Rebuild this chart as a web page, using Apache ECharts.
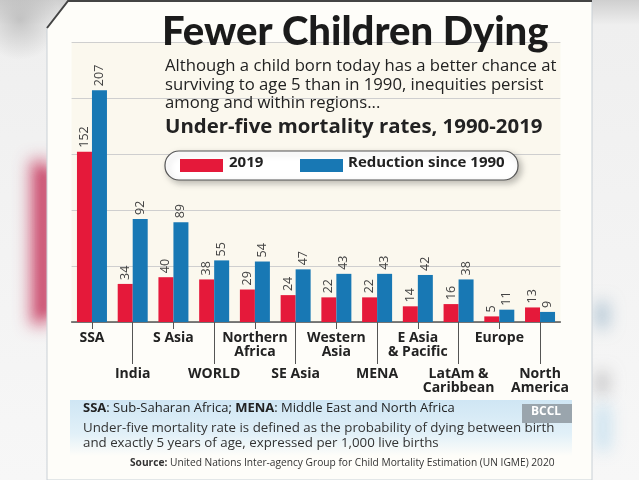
<!DOCTYPE html>
<html><head><meta charset="utf-8">
<script src="https://cdn.jsdelivr.net/npm/echarts@6/dist/echarts.min.js"></script>
<style>
html,body{margin:0;padding:0;}
body{width:639px;height:480px;overflow:hidden;
background:
 radial-gradient(ellipse 40px 40px at 20px 20px, rgba(170,170,170,0.6), rgba(170,170,170,0) 100%),
 linear-gradient(to bottom, #cfcfcf 0px, #efefef 25px, #f7f7f7 100%);
}
#c{width:639px;height:480px;}
</style></head>
<body><div id="c"></div>
<script>
const categories = ['SSA','India','S Asia','WORLD','Northern\nAfrica','SE Asia','Western\nAsia','MENA','E Asia\n& Pacific','LatAm &\nCaribbean','Europe','North\nAmerica'];
const values2019 = [152,34,40,38,29,24,22,22,14,16,5,13];
const reductionSince1990 = [207,92,89,55,54,47,43,43,42,38,11,9];
const yTicks = [0,50,100,150,200,250];

const RED = '#e5193a', BLUE = '#1878b4';
const chart = echarts.init(document.getElementById('c'), null, {renderer:'canvas'});
const labelFont = {fontFamily:'Open Sans', fontWeight:700, fontSize:14, color:'#222', lineHeight:14};
const valLabel = {show:true, position:'top', rotate:90, align:'left', verticalAlign:'middle', distance:4,
  fontFamily:'Open Sans', fontSize:12.5, color:'#444'};

// soft blurred decoration: only the shadow of an off-screen rect is visible
function blob(x, y, w, h, color, blur){
  return {type:'rect', z:-20, shape:{x:x-2000, y:y, width:w, height:h},
    style:{fill:color, shadowBlur:blur, shadowColor:color, shadowOffsetX:2000, shadowOffsetY:0}};
}

chart.setOption({
  animation:false,
  backgroundColor:'transparent',
  grid:{left:71.6, right:78.6, top:42, bottom:158, show:true, backgroundColor:'#fbf8ee', borderWidth:0},
  xAxis:[
    {type:'category', data:categories, position:'bottom',
     axisLine:{show:true, lineStyle:{color:'#555', width:1.5}},
     axisTick:{show:true, alignWithLabel:true, length:7, lineStyle:{color:'#555'}, interval:(i)=>i%2===0},
     axisLabel:{...labelFont, margin:9, interval:(i)=>i%2===0}},
    {type:'category', data:categories, position:'bottom', offset:0,
     axisLine:{show:false},
     axisTick:{show:true, alignWithLabel:true, length:42, lineStyle:{color:'#555'}, interval:(i)=>i%2===1},
     axisLabel:{...labelFont, margin:45, interval:(i)=>i%2===1}}
  ],
  yAxis:{type:'value', min:yTicks[0], max:yTicks[yTicks.length-1], interval:50,
    axisLine:{show:false}, axisTick:{show:false}, axisLabel:{show:false},
    splitLine:{lineStyle:{color:'#cfcfcf', width:1}}},
  series:[
    {type:'bar', name:'2019', data:values2019, barWidth:15, barGap:'0%', itemStyle:{color:RED}, label:valLabel},
    {type:'bar', name:'Reduction since 1990', data:reductionSince1990, barWidth:15, barGap:'0%', itemStyle:{color:BLUE}, label:valLabel}
  ],
  graphic:[
    blob(30, 160, 20, 165, 'rgba(205,75,110,0.9)', 16),
    blob(38, 170, 12, 145, 'rgba(200,70,105,0.9)', 10),
    blob(596, 302, 12, 26, 'rgba(130,165,190,0.8)', 16),
    blob(596, 372, 12, 22, 'rgba(160,160,162,0.8)', 16),
    blob(596, 405, 14, 45, 'rgba(190,220,238,0.9)', 16),
    {type:'polygon', z:-10, shape:{points:[[47,27],[68,1],[592,1],[592,480],[47,480]]},
      style:{fill:'#fefdf9', stroke:'#c9d0d6', lineWidth:1}},
    {type:'polyline', z:-9, shape:{points:[[47,28],[68,1],[592,1]]}, style:{stroke:'#444', lineWidth:2, fill:null}},
    {type:'text', z:10, left:162, top:12, style:{text:'Fewer Children Dying', font:'900 40px Lato', fill:'#1b1b1b'}},
    {type:'text', z:10, left:165, top:57, style:{text:'Although a child born today has a better chance at\nsurviving to age 5 than in 1990, inequities persist\namong and within regions...', font:'16.7px "Open Sans"', lineHeight:18.5, fill:'#222'}},
    {type:'text', z:10, left:165, top:117, style:{text:'Under-five mortality rates, 1990-2019', font:'bold 20.4px "Open Sans"', fill:'#222'}},
    {type:'rect', z:10, shape:{x:165, y:151, width:353, height:29, r:14}, style:{fill:'#ffffff', stroke:'#555', lineWidth:1.2, shadowBlur:6, shadowOffsetX:3, shadowOffsetY:3, shadowColor:'rgba(0,0,0,0.25)'}},
    {type:'rect', z:11, shape:{x:180, y:159, width:43, height:13}, style:{fill:RED}},
    {type:'text', z:11, left:229, top:155, style:{text:'2019', font:'bold 15px "Open Sans"', fill:'#222'}},
    {type:'rect', z:11, shape:{x:300, y:159, width:43, height:13}, style:{fill:BLUE}},
    {type:'text', z:11, left:348, top:155, style:{text:'Reduction since 1990', font:'bold 15px "Open Sans"', fill:'#222'}},
    {type:'rect', z:-5, shape:{x:70, y:400, width:502, height:56},
      style:{fill:new echarts.graphic.LinearGradient(0,0,0,1,[{offset:0,color:'#cfe6f4'},{offset:0.6,color:'#e1f0f8'},{offset:1,color:'#fefdf9'}])}},
    {type:'text', z:10, left:83, top:402, style:{text:'{b|SSA}: Sub-Saharan Africa; {b|MENA}: Middle East and North Africa',
      font:'13px "Open Sans"', fill:'#222', rich:{b:{fontFamily:'Open Sans', fontWeight:'bold', fontSize:13, fill:'#222'}}}},
    {type:'text', z:10, left:83, top:421, style:{text:'Under-five mortality rate is defined as the probability of dying between birth\nand exactly 5 years of age, expressed per 1,000 live births',
      font:'13.3px "Open Sans"', lineHeight:15, fill:'#333'}},
    {type:'text', z:10, left:130, top:458, style:{text:'{b|Source:} United Nations Inter-agency Group for Child Mortality Estimation (UN IGME) 2020',
      font:'10.2px "Open Sans"', fill:'#333', rich:{b:{fontFamily:'Open Sans', fontWeight:'bold', fontSize:10.2, fill:'#333'}}}},
    {type:'rect', z:10, shape:{x:522, y:404, width:50, height:19}, style:{fill:'#9aa5ad'}},
    {type:'text', z:11, left:531, top:406, style:{text:'BCCL', font:'bold 12px "Open Sans"', fill:'#ffffff'}}
  ]
});
</script></body></html>
